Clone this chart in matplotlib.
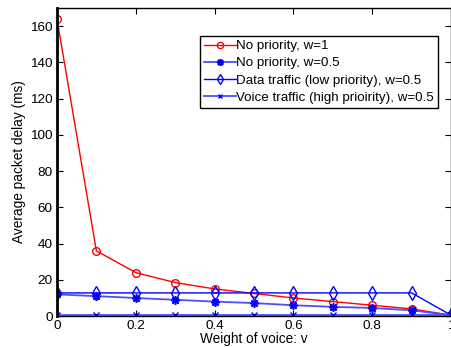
import matplotlib as mpl
mpl.use('Agg')
import matplotlib.pyplot as plt

plt.rcParams['font.family'] = ['Liberation Sans', 'DejaVu Sans']
plt.rcParams['font.size'] = 9

# weight of voice
v = [0, 0.1, 0.2, 0.3, 0.4, 0.5, 0.6, 0.7, 0.8, 0.9, 1.0]
# average packet delay (ms)
no_prio_w1 = [164, 36, 24, 18.5, 15, 12.5, 10, 8, 6, 4, 0.5]
no_prio_w05 = [12, 11, 10, 9, 8, 7.2, 6, 5.1, 4.5, 3.2, 0.5]
data_low = [12.8, 12.8, 12.8, 12.8, 12.8, 12.8, 12.8, 12.8, 12.8, 12.8, 0.5]
voice_high = [0.4, 0.4, 0.4, 0.4, 0.4, 0.4, 0.4, 0.4, 0.4, 0.4, 0.4]

fig = plt.figure(figsize=(4.52, 3.47), dpi=100)
ax = fig.add_axes([0.126, 0.089, 0.872, 0.888])

ax.plot(v, no_prio_w1, color='r', lw=1, marker='o', ms=5.5, mfc='none',
        mew=1, label='No priority, w=1')
ax.plot(v, no_prio_w05, color='#4d4dff', lw=1.3, marker=(8, 2, 0), ms=6,
        mew=1.2, mec='#0000ff', label='No priority, w=0.5')
ax.plot(v, data_low, color='#0000ff', lw=1, marker='d', ms=7, mfc='none',
        mew=1, label='Data traffic (low priority), w=0.5')
ax.plot(v, voice_high, color='#4d4dff', lw=1.3, marker='x', ms=4, mew=1,
        mec='#0000ff', label='Voice traffic (high prioirity), w=0.5')

ax.set_xlim(0, 1)
ax.set_ylim(0, 170)
ax.set_xticks([0, 0.2, 0.4, 0.6, 0.8, 1])
ax.set_xticklabels(['0', '0.2', '0.4', '0.6', '0.8', '1'])
ax.set_yticks(range(0, 161, 20))
ax.tick_params(direction='in', top=True, right=True, length=4, width=0.8,
               labelsize=9.7, pad=3)
for s in ax.spines.values():
    s.set_linewidth(1)
ax.spines['left'].set_linewidth(2)

ax.set_xlabel('Weight of voice: v', fontsize=9.8, labelpad=0)
ax.set_ylabel('Average packet delay (ms)', fontsize=9.8, labelpad=3)

leg = ax.legend(loc='upper right', bbox_to_anchor=(0.967, 0.909),
                fancybox=False, edgecolor='k', framealpha=1, fontsize=9.6,
                handlelength=2.4, borderpad=0.3, labelspacing=0.36,
                handletextpad=0.05, borderaxespad=0)
leg.get_frame().set_linewidth(1)
for h, ms in zip(leg.legend_handles, [4.5, 5, 5.5, 3.5]):
    h.set_markersize(ms)

fig.savefig('out.png', dpi=100)
